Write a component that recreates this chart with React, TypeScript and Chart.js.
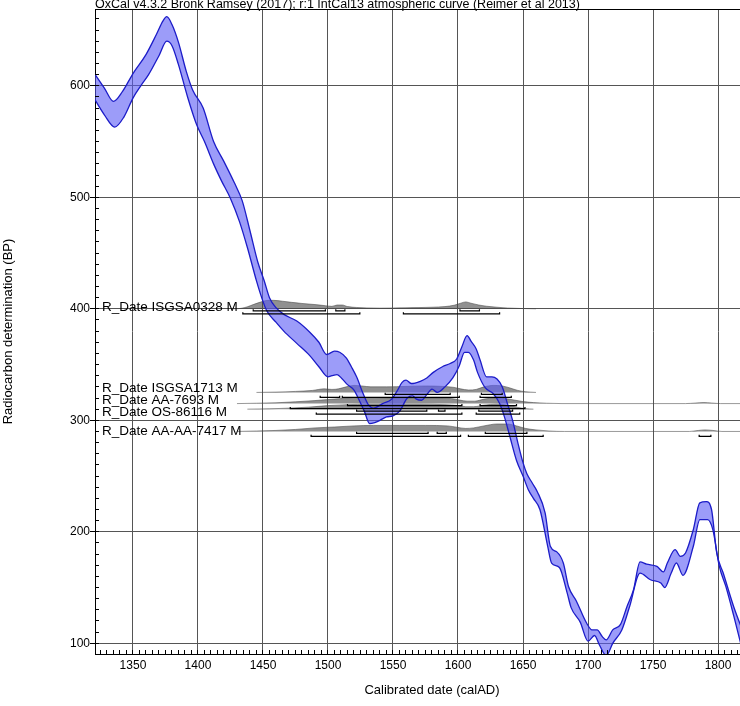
import React, { useEffect, useRef } from "react";
import { Chart, registerables } from "chart.js";

Chart.register(...registerables);

// ---------- text ----------
const TITLE = "OxCal v4.3.2 Bronk Ramsey (2017); r:1 IntCal13 atmospheric curve (Reimer et al 2013)";
const X_TITLE = "Calibrated date (calAD)";
const Y_TITLE = "Radiocarbon determination (BP)";

// ---------- axes ----------
const X_MIN = 1320.8;
const X_MAX = 1816.9;
const Y_MIN = 90.4;
const Y_MAX = 668.9;
const X_STEP = 50;
const Y_STEP = 100;
const X_MINOR = 5;
const Y_MINOR = 10;

// ---------- IntCal13 calibration curve (1 sigma envelope) ----------
const upperYears = [1318,1328,1335,1342,1350,1360,1368,1373,1376,1380,1385,1391,1396,1404,1412,1420,1428,1434,1440,1446,1451,1455,1460,1466,1476,1486,1493,1499,1505,1509,1514,1518,1522,1527,1531,1535,1542,1549,1553,1557,1560,1564,1571,1576,1581,1588,1594,1599,1603,1607,1610,1614,1617,1622,1626,1630,1634,1638,1642,1646,1650,1653,1657,1661,1667,1671,1676,1681,1685,1691,1699,1703,1707,1711,1714,1719,1725,1730,1735,1740,1745,1753,1758,1761,1767,1771,1775,1781,1786,1791,1795,1799,1804,1812,1820];
const upperBP = [615,598,586,595,611,628,646,658,662,655,639,613,596,580,550,532,513,497,470,442,425,410,401,395,389,379,370,359,362,361,356,348,339,324,314,311,315,319,326,334,336,333,335,338,343,348,351,355,366,376,371,364,354,339,339,337,330,315,300,280,262,252,244,236,217,187,182,172,151,138,118,112,112,106,103,112,117,133,148,173,171,169,164,172,184,178,181,202,226,227,220,181,163,133,108];
const lowerYears = [1318,1328,1336,1343,1350,1356,1362,1370,1376,1380,1385,1392,1399,1405,1412,1418,1425,1432,1438,1445,1449,1453,1460,1466,1476,1486,1493,1500,1503,1507,1511,1515,1520,1524,1528,1532,1536,1540,1545,1550,1555,1561,1565,1568,1572,1576,1580,1584,1590,1596,1601,1605,1608,1612,1615,1621,1627,1632,1636,1640,1645,1650,1654,1658,1663,1669,1672,1678,1684,1687,1694,1700,1705,1709,1714,1719,1726,1732,1740,1748,1756,1759,1764,1768,1773,1781,1786,1792,1796,1801,1806,1812,1820];
const lowerBP = [593,574,563,572,589,600,610,627,640,636,619,590,565,550,530,515,499,478,455,425,410,398,388,380,369,358,348,339,340,341,337,332,327,318,308,297,298,300,303,304,308,320,322,319,318,323,328,325,330,338,349,361,361,354,343,329,324,315,302,285,264,250,238,230,220,187,172,168,145,132,119,102,107,98,89,100,112,133,163,157,154,150,163,172,161,187,211,211,202,169,151,125,88];

// ---------- radiocarbon dates ----------
const dateNames = ["R_Date ISGSA0328 M", "R_Date ISGSA1713 M", "R_Date AA-7693 M", "R_Date OS-86116 M", "R_Date AA-AA-7417 M"];
const dateBP = [400, 325, 315, 310, 290];

// calibrated probability densities (height above baseline, in BP units of the plot)
const isgsa0328Years = [1428,1433,1438,1443,1448,1453,1458,1465,1472,1480,1490,1498,1503,1507,1511,1515,1522,1530,1540,1550,1560,1570,1580,1590,1597,1602,1606,1610,1616,1622,1630,1638,1648,1660];
const isgsa0328Density = [0,0.4,1.8,4,6,7.5,7.6,6.8,5.8,4.8,3.8,2.8,2.2,3.4,3.4,2,1.2,0.8,0.6,0.7,0.9,1.1,1.4,2,3.2,5,6.2,5,3.4,2.3,1.4,0.7,0.3,0];
const isgsa1713Years = [1445,1460,1475,1488,1497,1503,1508,1514,1520,1526,1533,1545,1560,1575,1588,1597,1602,1608,1614,1620,1627,1634,1640,1646,1652,1660];
const isgsa1713Density = [0,0.3,0.9,1.8,3.2,2.7,3.2,5,6.3,5.8,5,5,5.4,5.8,5.4,4.5,3.2,2.2,2.7,5,6.3,5.8,4,1.8,0.6,0];
const aa7693Years = [1430,1445,1460,1475,1490,1500,1510,1520,1535,1550,1565,1580,1595,1601,1607,1613,1620,1628,1636,1643,1650,1658,1668,1680,1775,1783,1789,1795,1802,1820];
const aa7693Density = [0,0.3,0.7,1.6,2.7,3.6,4.5,5.4,5.4,5,5,5,4.5,3.2,2.2,2.2,4,5,4.5,3.2,1.8,0.9,0.3,0,0,0.5,0.9,0.5,0,0];
const os86116Years = [1438,1455,1470,1485,1500,1515,1530,1550,1570,1590,1600,1606,1612,1620,1630,1638,1645,1652,1658];
const os86116Density = [0,0.3,0.9,1.8,3.2,4,4.5,4.5,4.5,4,3.2,2.2,2.2,3.6,4.5,3.6,1.8,0.4,0];
const aaaa7417Years = [1430,1445,1460,1475,1490,1505,1520,1535,1555,1575,1592,1600,1606,1612,1620,1630,1638,1645,1652,1660,1670,1682,1778,1785,1790,1796,1803,1820];
const aaaa7417Density = [0,0.4,0.9,1.8,3.2,4,5,5.4,5.4,5.4,5,3.6,2.7,3.2,5,6.7,6.7,5,2.7,1.4,0.4,0,0,0.9,1.4,0.9,0,0];

// highest probability ranges (calAD)
const isgsa0328Range68 = [[1442.5, 1498], [1506, 1513], [1601.5, 1616.5]];
const isgsa0328Range95 = [[1434.5, 1524.5], [1558, 1632]];
const isgsa1713Range68 = [[1544, 1594], [1618, 1634]];
const isgsa1713Range95 = [[1494, 1509], [1511, 1601], [1617, 1641]];
const aa7693Range68 = [[1515, 1603], [1617, 1645]];
const aa7693Range95 = [[1471, 1651.5]];
const os86116Range68 = [[1522, 1576], [1585, 1590], [1616, 1642]];
const os86116Range95 = [[1491, 1603], [1614, 1647.5]];
const aaaa7417Range68 = [[1522, 1577], [1584, 1591], [1621, 1653]];
const aaaa7417Range95 = [[1487, 1602], [1608, 1665.5], [1785.5, 1794.5]];

const densYears = [isgsa0328Years, isgsa1713Years, aa7693Years, os86116Years, aaaa7417Years];
const densValues = [isgsa0328Density, isgsa1713Density, aa7693Density, os86116Density, aaaa7417Density];
const ranges68 = [isgsa0328Range68, isgsa1713Range68, aa7693Range68, os86116Range68, aaaa7417Range68];
const ranges95 = [isgsa0328Range95, isgsa1713Range95, aa7693Range95, os86116Range95, aaaa7417Range95];

// ---------- style ----------
const FONT = '"Liberation Sans", Arial, Helvetica, sans-serif';
const PX_PER_BP = 645 / (Y_MAX - Y_MIN);
const OFF68 = 2 / PX_PER_BP;
const OFF95 = 5 / PX_PER_BP;
const TICK = 1.6 / PX_PER_BP;
const LABEL_DY = [2.5, -0.5, 0.2, 6.5, 3.5];
const BAND_FILL = "rgba(90,90,245,0.6)";
const BAND_LINE = "#1c1cc8";
const DIST_FILL = "rgba(70,70,70,0.6)";
const DIST_LINE = "rgba(70,70,70,0.55)";

function toPoints(xs: number[], ys: number[], base = 0) {
  return xs.map((x, i) => ({ x, y: base + ys[i] }));
}

function bracketPoints(r: number[][], level: number) {
  const pts: any[] = [];
  r.forEach(([s, e]) => {
    pts.push({ x: s, y: level + TICK }, { x: s, y: level }, { x: e, y: level }, { x: e, y: level + TICK }, { x: e, y: null });
  });
  return pts;
}

function buildDatasets() {
  const ds: any[] = [];
  dateBP.forEach((bp, i) => {
    ds.push({
      data: [...bracketPoints(ranges68[i], bp - OFF68), ...bracketPoints(ranges95[i], bp - OFF95)],
      borderColor: "#000",
      borderWidth: 1.2,
      pointRadius: 0,
      fill: false,
      spanGaps: false,
      tension: 0,
      order: 0,
    });
  });
  const upperIndex = ds.length;
  ds.push({
    data: toPoints(upperYears, upperBP),
    borderColor: BAND_LINE,
    borderWidth: 1.3,
    pointRadius: 0,
    fill: false,
    cubicInterpolationMode: "monotone",
    order: 1,
  });
  ds.push({
    data: toPoints(lowerYears, lowerBP),
    borderColor: BAND_LINE,
    backgroundColor: BAND_FILL,
    borderWidth: 1.3,
    pointRadius: 0,
    fill: { target: upperIndex },
    cubicInterpolationMode: "monotone",
    order: 1,
  });
  dateBP.forEach((bp, i) => {
    ds.push({
      data: toPoints(densYears[i], densValues[i], bp),
      borderColor: DIST_LINE,
      backgroundColor: DIST_FILL,
      borderWidth: 1,
      pointRadius: 0,
      fill: { value: bp },
      cubicInterpolationMode: "monotone",
      order: 2,
    });
  });
  return ds;
}

const align = (p: number) => Math.round(p - 0.5) + 0.5;

const decorPlugin = {
  id: "oxcalDecor",
  afterDraw(chart: any) {
    const { ctx, chartArea: a } = chart;
    const xs = chart.scales.x;
    const ys = chart.scales.y;
    ctx.save();
    ctx.strokeStyle = "#000";
    ctx.lineWidth = 1;
    ctx.beginPath();
    ctx.moveTo(a.left, align(a.top));
    ctx.lineTo(a.right, align(a.top));
    for (let v = Math.ceil(Y_MIN / Y_MINOR) * Y_MINOR; v <= Y_MAX; v += Y_MINOR) {
      const py = align(ys.getPixelForValue(v));
      ctx.moveTo(a.left, py);
      ctx.lineTo(a.left + 4, py);
    }
    for (let v = Math.ceil(X_MIN / X_MINOR) * X_MINOR; v <= X_MAX; v += X_MINOR) {
      const px = align(xs.getPixelForValue(v));
      ctx.moveTo(px, a.bottom);
      ctx.lineTo(px, a.bottom - 4);
    }
    ctx.stroke();

    ctx.fillStyle = "#000";
    ctx.font = `13.5px ${FONT}`;
    ctx.textAlign = "left";
    ctx.textBaseline = "alphabetic";
    dateNames.forEach((name, i) => {
      ctx.fillText(name, a.left + 7, ys.getPixelForValue(dateBP[i]) + LABEL_DY[i]);
    });

    ctx.font = `12.5px ${FONT}`;
    ctx.fillText(TITLE, a.left, 7.5);

    ctx.font = `13px ${FONT}`;
    ctx.textAlign = "center";
    ctx.textBaseline = "middle";
    ctx.fillText(X_TITLE, 432, 690);
    ctx.translate(8, (a.top + a.bottom) / 2);
    ctx.rotate(-Math.PI / 2);
    ctx.fillText(Y_TITLE, 0, 0);
    ctx.restore();
  },
};

export default function App() {
  const ref = useRef<HTMLCanvasElement>(null);
  useEffect(() => {
    if (!ref.current) return;
    const chart = new Chart(ref.current, {
      type: "line",
      data: { datasets: buildDatasets() },
      options: {
        animation: false,
        responsive: false,
        devicePixelRatio: 1,
        events: [],
        layout: { padding: { top: 9, left: 0, right: 0, bottom: 0 } },
        plugins: { legend: { display: false }, tooltip: { enabled: false }, title: { display: false } },
        scales: {
          x: {
            type: "linear",
            min: X_MIN,
            max: X_MAX,
            ticks: {
              stepSize: X_STEP,
              includeBounds: false,
              autoSkip: false,
              maxRotation: 0,
              padding: 4,
              color: "#000",
              font: { family: FONT, size: 12 },
              callback: (v: any) => String(v),
            },
            grid: { color: "#555", lineWidth: 1, drawTicks: false },
            border: { color: "#000", width: 1 },
            afterFit: (s: any) => { s.height = 52; },
          },
          y: {
            type: "linear",
            min: Y_MIN,
            max: Y_MAX,
            ticks: {
              stepSize: Y_STEP,
              includeBounds: false,
              padding: 0,
              color: "#000",
              font: { family: FONT, size: 12 },
              callback: (v: any) => String(v),
            },
            grid: { color: "#555", lineWidth: 1, tickLength: 5, tickColor: "#000" },
            border: { color: "#000", width: 1 },
            afterFit: (s: any) => { s.width = 95; },
          },
        },
      } as any,
      plugins: [decorPlugin],
    });
    return () => chart.destroy();
  }, []);
  return (
    <div style={{ position: "absolute", left: 0, top: 0, width: 740, height: 706, background: "#fff" }}>
      <canvas ref={ref} width={740} height={706} style={{ display: "block", width: 740, height: 706 }} />
    </div>
  );
}
